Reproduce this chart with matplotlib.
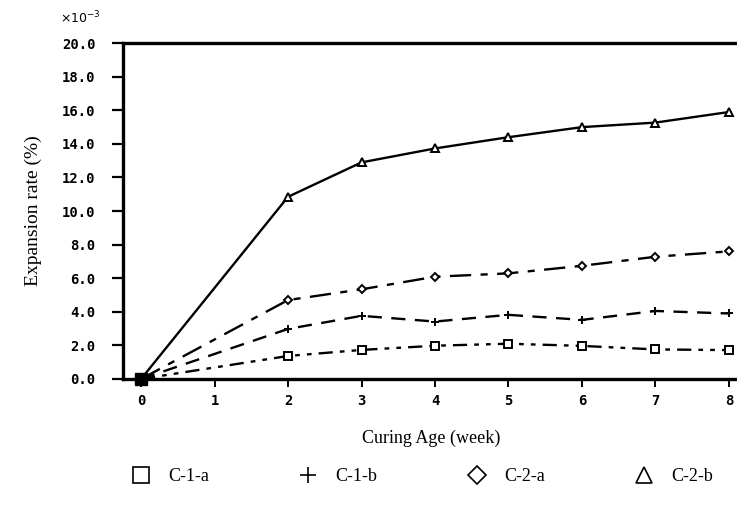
import matplotlib
matplotlib.use("Agg")
import matplotlib.pyplot as plt

# curing age in weeks (week 1 has no measurement)
weeks = [0, 2, 3, 4, 5, 6, 7, 8]

c1a = [0, 1.37, 1.73, 1.98, 2.10, 1.97, 1.76, 1.72]
c1b = [0, 2.98, 3.76, 3.42, 3.82, 3.52, 4.05, 3.90]
c2a = [0, 4.70, 5.34, 6.09, 6.29, 6.74, 7.28, 7.60]
c2b = [0, 10.85, 12.90, 13.73, 14.40, 15.00, 15.27, 15.90]

x_ticks = [0, 1, 2, 3, 4, 5, 6, 7, 8]
y_ticks = [0, 2, 4, 6, 8, 10, 12, 14, 16, 18, 20]

serif = ["Liberation Serif", "DejaVu Serif"]
tickfont = dict(family="DejaVu Sans Mono", weight="bold", size=10)

fig = plt.figure(figsize=(7.37, 5.08), dpi=100)
ax = fig.add_axes([0.167, 0.254, 0.833, 0.661])

series = [
    ("C-1-a", c1a, "s", (0, (6, 3, 2, 3, 2, 3))),
    ("C-1-b", c1b, "+", (0, (6, 4))),
    ("C-2-a", c2a, "D", (0, (9, 4, 3, 4))),
    ("C-2-b", c2b, "^", "-"),
]

handles = []
for name, vals, mk, ls in series:
    ax.plot(weeks, vals, color="black", linestyle=ls, linewidth=1.7)
    ms = 4.5 if mk == "D" else 6
    ax.plot(weeks[1:], vals[1:], linestyle="none", marker=mk, markersize=ms,
            markerfacecolor="white", markeredgecolor="black", markeredgewidth=1.4)
    h, = ax.plot([], [], linestyle="none", marker=mk, markersize=11 if mk != "D" else 9,
                 markerfacecolor="white", markeredgecolor="black", markeredgewidth=1.2,
                 label=name)
    handles.append(h)

# common origin point
ax.plot(weeks[0], c1a[0], marker="s", color="black", markersize=8, clip_on=False)

ax.set_xlim(-0.245, 8.11)
ax.set_ylim(0, 20)
ax.set_xticks(x_ticks)
ax.set_xticklabels([str(v) for v in x_ticks], fontdict=tickfont)
ax.set_yticks(y_ticks)
ax.set_yticklabels([f"{v:.1f}" for v in y_ticks], fontdict=tickfont)
ax.tick_params(axis="y", direction="out", length=8, width=1.6, pad=12)
ax.tick_params(axis="x", direction="out", length=6, width=1.4, pad=5)

for s in ["left", "top", "bottom"]:
    ax.spines[s].set_linewidth(2.4)
ax.spines["right"].set_visible(False)

ax.set_ylabel("Expansion rate (%)", family=serif, fontsize=14, labelpad=14)
fig.text(0.585, 0.138, "Curing Age (week)", family=serif, fontsize=13,
         ha="center", va="center")
fig.text(0.082, 0.965, r"$\times10^{-3}$", fontsize=9, ha="left", va="center")

fig.legend(handles=handles, loc="center", bbox_to_anchor=(0.572, 0.062), ncol=4,
           frameon=False, handlelength=1.2, handletextpad=0.9, columnspacing=4.9,
           prop={"family": serif, "size": 13})

fig.savefig("out.png", dpi=100)
